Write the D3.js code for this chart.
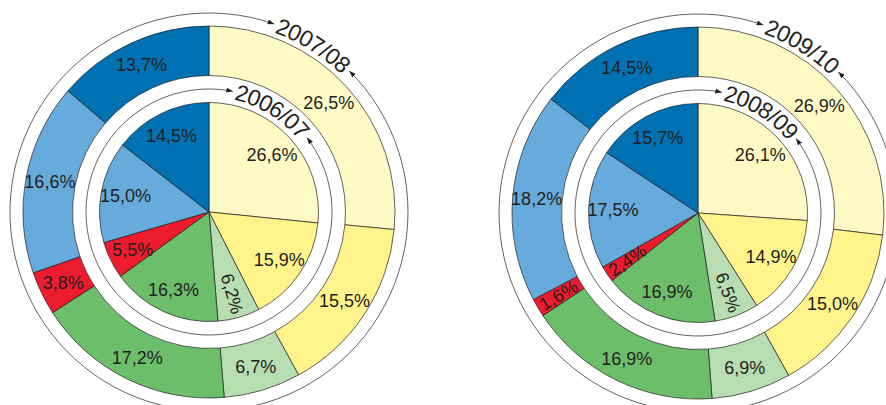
<!DOCTYPE html>
<html>
<head>
<meta charset="utf-8">
<script src="https://cdn.jsdelivr.net/npm/d3@7"></script>
<style>
  html, body { margin: 0; padding: 0; background: #fff; }
  svg { display: block; font-family: "Liberation Sans", Arial, sans-serif; }
</style>
</head>
<body>
<svg id="chart" width="886" height="405"></svg>
<script>
// shares per season, clockwise from 12 o'clock
const seasons = ["2006/07", "2007/08", "2008/09", "2009/10"];
const share0607 = [26.6, 15.9, 6.2, 16.3, 5.5, 15.0, 14.5];
const share0708 = [26.5, 15.5, 6.7, 17.2, 3.8, 16.6, 13.7];
const share0809 = [26.1, 14.9, 6.5, 16.9, 2.4, 17.5, 15.7];
const share0910 = [26.9, 15.0, 6.9, 16.9, 1.6, 18.2, 14.5];

const sliceColors = ["#fff9c6", "#fff48c", "#b9ddb2", "#6cbe6b", "#ec1c2e", "#67aadc", "#0071b3"];
const ink = "#231f20";

const fmt = d3.formatLocale({ decimal: ",", thousands: ".", grouping: [3], currency: ["", ""] }).format(".1f");

const svg = d3.select("#chart");

svg.append("defs").append("marker")
    .attr("id", "arrow")
    .attr("viewBox", "0 0 8 6")
    .attr("refX", 8).attr("refY", 3)
    .attr("markerWidth", 7).attr("markerHeight", 5)
    .attr("markerUnits", "userSpaceOnUse")
    .attr("orient", "auto-start-reverse")
  .append("path")
    .attr("d", "M0,0L8,3L0,6Z")
    .attr("fill", ink);

const pie = d3.pie().sort(null).value(d => d);

// radii
const R = { pie: 109.5, ringIn: 136.5, ringOut: 186, arrowIn: 123, arrowOut: 199, labIn: 85, labOut: 162 };

const panels = [
  { cx: 209, cy: 212, inner: share0607, outer: share0708, innerName: seasons[0], outerName: seasons[1] },
  { cx: 698, cy: 213, inner: share0809, outer: share0910, innerName: seasons[2], outerName: seasons[3] }
];

function drawRing(g, values, r0, r1, labelR) {
  const arcs = pie(values);
  const arc = d3.arc().innerRadius(r0).outerRadius(r1);

  g.selectAll(null)
    .data(arcs)
    .enter().append("path")
    .attr("d", arc)
    .attr("fill", (d, i) => sliceColors[i])
    .attr("stroke", ink)
    .attr("stroke-width", 0.7);

  g.selectAll(null)
    .data(arcs)
    .enter().append("text")
    .attr("text-anchor", "middle")
    .attr("dy", "0.35em")
    .attr("font-size", 18)
    .attr("fill", ink)
    .text(d => fmt(d.data) + "%")
    .each(function(d) {
      const a = (d.startAngle + d.endAngle) / 2;
      const x = labelR * Math.sin(a), y = -labelR * Math.cos(a);
      // turn the label along the radius when it does not fit flat
      const w = this.getComputedTextLength();
      const room = labelR * (d.endAngle - d.startAngle);
      const need = w * Math.abs(Math.cos(a)) + 10 * Math.abs(Math.sin(a));
      let rot = 0;
      if (need > room) {
        rot = a * 180 / Math.PI - 90;
        if (rot > 90) rot -= 180;
        if (rot < -90) rot += 180;
      }
      d3.select(this).attr("transform", `translate(${x},${y}) rotate(${rot})`);
    });
}

function drawSeason(g, id, name, r) {
  const mid = 32 * Math.PI / 180;   // measured from 12 o'clock

  const guide = d3.path();
  guide.arc(0, 0, r, mid - Math.PI, mid, false);
  g.append("path").attr("id", id).attr("d", guide.toString()).attr("fill", "none");

  const t = g.append("text")
    .attr("dy", "0.35em")
    .attr("font-size", 23)
    .attr("fill", ink);
  t.append("textPath")
    .attr("href", "#" + id)
    .attr("startOffset", "50%")
    .attr("text-anchor", "middle")
    .text(name);

  const half = (t.node().getComputedTextLength() / 2 + 3) / r;
  const line = d3.path();
  line.arc(0, 0, r, mid + half - Math.PI / 2, mid - half + 1.5 * Math.PI, false);
  g.append("path")
    .attr("d", line.toString())
    .attr("fill", "none")
    .attr("stroke", ink)
    .attr("stroke-width", 0.7)
    .attr("marker-start", "url(#arrow)")
    .attr("marker-end", "url(#arrow)");
}

panels.forEach((p, k) => {
  const g = svg.append("g").attr("transform", `translate(${p.cx},${p.cy})`);
  drawSeason(g, "outerPath" + k, p.outerName, R.arrowOut);
  drawRing(g, p.outer, R.ringIn, R.ringOut, R.labOut);
  drawSeason(g, "innerPath" + k, p.innerName, R.arrowIn);
  drawRing(g, p.inner, 0, R.pie, R.labIn);
});
</script>
</body>
</html>
